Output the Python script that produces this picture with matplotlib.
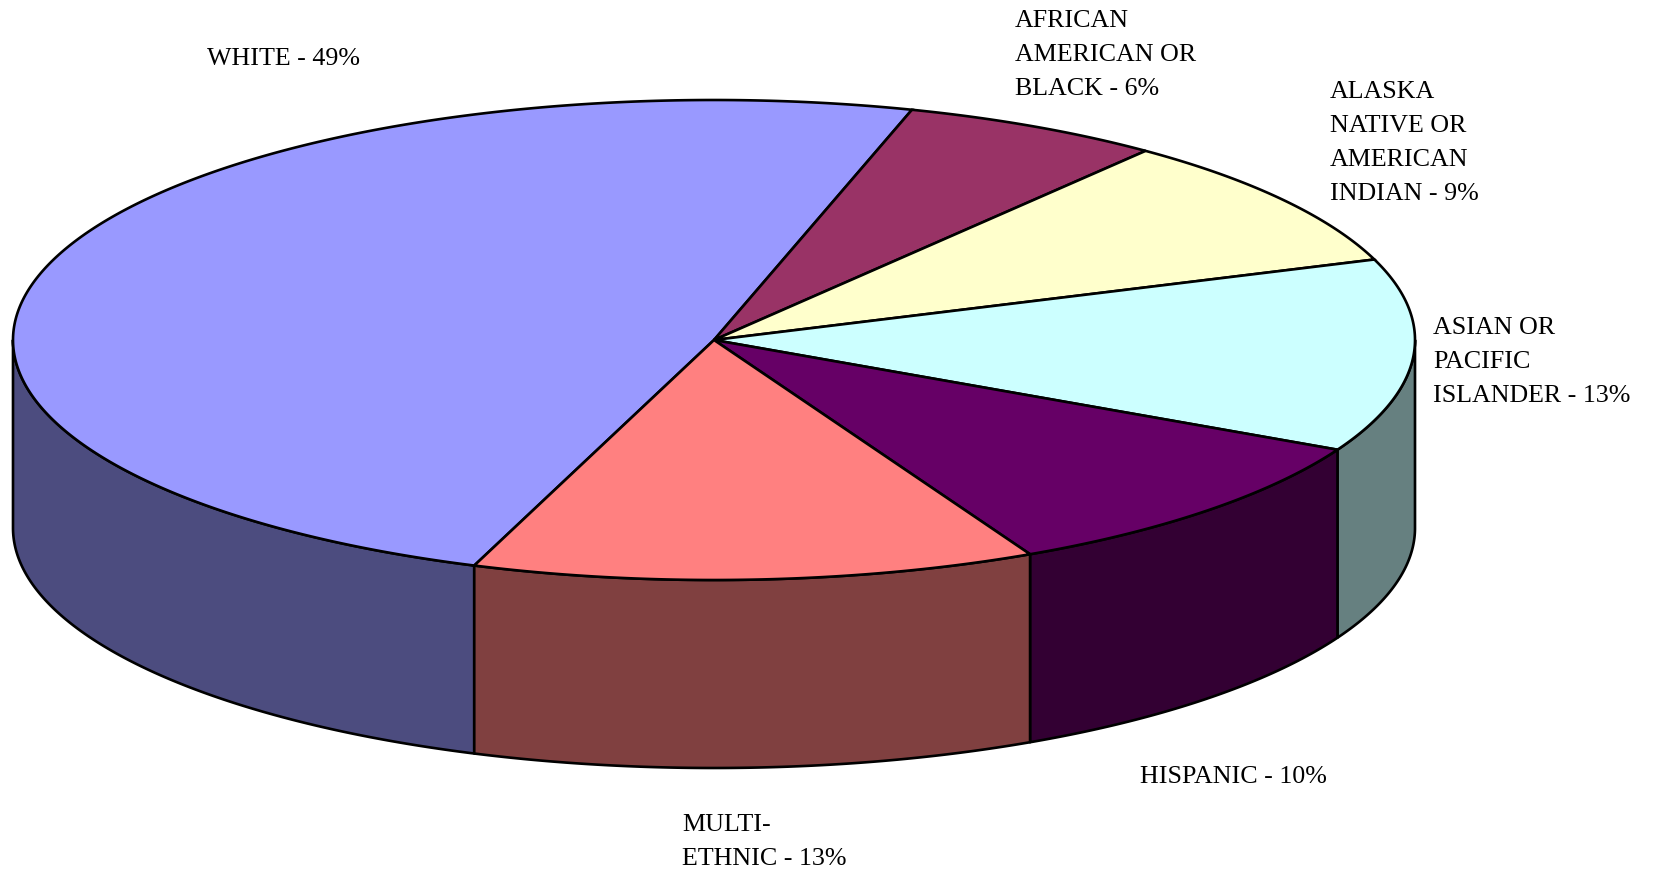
import numpy as np
import matplotlib
matplotlib.use('Agg')
from matplotlib import pyplot as plt
from matplotlib.patches import Polygon

# Data
categories = ['WHITE', 'AFRICAN\nAMERICAN OR\nBLACK', 'ALASKA\nNATIVE OR\nAMERICAN\nINDIAN',
              'ASIAN OR\nPACIFIC\nISLANDER', 'HISPANIC', 'MULTI-\nETHNIC']
values = [49, 6, 9, 13, 10, 13]
top_colors = ['#9999FF', '#993366', '#FFFFCC', '#CCFFFF', '#660066', '#FF8080']
side_colors = ['#4C4C7F', '#4C1933', '#80806F', '#668080', '#330033', '#804040']

# label anchor (left, top) in pixels
label_pos = [(207, 48), (1015, 10), (1330, 81), (1433, 317), (1140, 766), (682, 814)]

# pie geometry (pixels)
cx, cy = 714, 340
rx, ry = 701, 240
depth = 188
start_angle = 250  # degrees, slices go clockwise

fig = plt.figure(figsize=(16.58, 8.73), dpi=100)
ax = fig.add_axes([0, 0, 1, 1])
ax.set_xlim(0, 1658)
ax.set_ylim(873, 0)
ax.axis('off')


def top_pt(t, dz=0):
    t = np.radians(t)
    return cx + rx * np.cos(t), cy - ry * np.sin(t) + dz


total = sum(values)
bounds = []
a = start_angle
for v in values:
    b = a - 360 * v / total
    bounds.append((b, a))
    a = b

# side walls (only the front half is visible)
for (lo, hi), sc in zip(bounds, side_colors):
    for k in (-1, 0, 1):
        vlo = max(lo, 180 + 360 * k)
        vhi = min(hi, 360 + 360 * k)
        if vhi <= vlo:
            continue
        t = np.linspace(vlo, vhi, 200)
        xs, ys = top_pt(t)
        xb, yb = top_pt(t[::-1], depth)
        pts = np.column_stack([np.concatenate([xs, xb]), np.concatenate([ys, yb])])
        ax.add_patch(Polygon(pts, closed=True, facecolor=sc, edgecolor='black',
                             linewidth=1.9, joinstyle='round'))

# top faces
for (lo, hi), tc in zip(bounds, top_colors):
    t = np.linspace(lo, hi, 300)
    xs, ys = top_pt(t)
    pts = np.column_stack([np.concatenate([[cx], xs]), np.concatenate([[cy], ys])])
    ax.add_patch(Polygon(pts, closed=True, facecolor=tc, edgecolor='black',
                         linewidth=1.9, joinstyle='miter'))

for name, v, (lx, ly) in zip(categories, values, label_pos):
    ax.text(lx, ly, f'{name} - {v}%', ha='left', va='top', fontsize=18.7,
            family='Liberation Serif', linespacing=1.71, color='black')

fig.savefig('out.png', dpi=100)
